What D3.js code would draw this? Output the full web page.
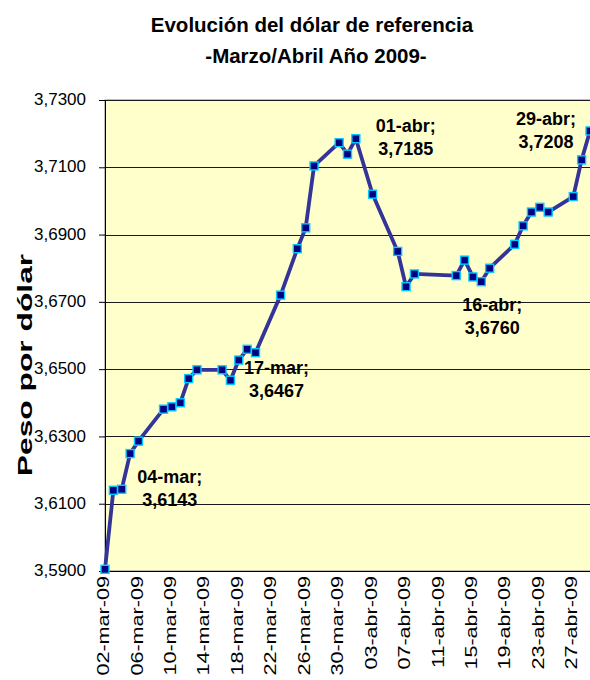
<!DOCTYPE html>
<html>
<head>
<meta charset="utf-8">
<script src="https://cdn.jsdelivr.net/npm/d3@7"></script>
<style>
  body { margin: 0; background: #fff; }
  text { font-family: "Liberation Sans", Arial, sans-serif; }
</style>
</head>
<body>
<div id="chart"></div>
<script>
// data
var dates = ["2009-03-02","2009-03-03","2009-03-04","2009-03-05","2009-03-06",
  "2009-03-09","2009-03-10","2009-03-11","2009-03-12","2009-03-13",
  "2009-03-16","2009-03-17","2009-03-18","2009-03-19","2009-03-20",
  "2009-03-23","2009-03-25","2009-03-26","2009-03-27",
  "2009-03-30","2009-03-31","2009-04-01","2009-04-03",
  "2009-04-06","2009-04-07","2009-04-08",
  "2009-04-13","2009-04-14","2009-04-15","2009-04-16","2009-04-17",
  "2009-04-20","2009-04-21","2009-04-22","2009-04-23","2009-04-24",
  "2009-04-27","2009-04-28","2009-04-29"];
var values = [3.5905,3.6140,3.6143,3.6249,3.6286,
  3.6381,3.6388,3.6400,3.6472,3.6498,
  3.6498,3.6467,3.6527,3.6559,3.6549,
  3.6720,3.6858,3.6920,3.7104,
  3.7173,3.7139,3.7185,3.7020,
  3.6850,3.6745,3.6783,
  3.6778,3.6824,3.6774,3.6760,3.6800,
  3.6871,3.6926,3.6967,3.6981,3.6967,
  3.7013,3.7122,3.7208];
var yTicks = [3.59,3.61,3.63,3.65,3.67,3.69,3.71,3.73];
var xTicks = ["2009-03-02","2009-03-06","2009-03-10","2009-03-14","2009-03-18",
  "2009-03-22","2009-03-26","2009-03-30","2009-04-03","2009-04-07",
  "2009-04-11","2009-04-15","2009-04-19","2009-04-23","2009-04-27"];
var labelledDates = ["2009-03-04","2009-03-17","2009-04-01","2009-04-16","2009-04-29"];
var titleLines = ["Evolución del dólar de referencia","-Marzo/Abril Año 2009-"];
var yTitle = "Peso por dólar";

var width = 590;
var height = 680;
var plot = {left:105, top:100, right:590, bottom:571};

var parse = d3.timeParse("%Y-%m-%d");
var es = d3.timeFormatLocale({
  dateTime:"%A, %e de %B de %Y, %X", date:"%d/%m/%Y", time:"%H:%M:%S",
  periods:["AM","PM"],
  days:["domingo","lunes","martes","miércoles","jueves","viernes","sábado"],
  shortDays:["dom","lun","mar","mié","jue","vie","sáb"],
  months:["enero","febrero","marzo","abril","mayo","junio","julio","agosto","septiembre","octubre","noviembre","diciembre"],
  shortMonths:["ene","feb","mar","abr","may","jun","jul","ago","sep","oct","nov","dic"]
});
var fmtDate = es.format("%d-%b-%y");
var fmtDay = es.format("%d-%b");
var num = d3.formatLocale({decimal:",", thousands:".", grouping:[3], currency:["$",""]});
var fmtVal = num.format(".4f");

var data = dates.map(function(d,i){ return {date:parse(d), value:values[i]}; });

var svg = d3.select('#chart').append('svg')
  .attr("width", width)
  .attr("height", height);

//scalers
var x = d3.scaleTime()
  .domain([parse(dates[0]), parse(dates[dates.length-1])])
  .range([plot.left, plot.right]);
var y = d3.scaleLinear()
  .domain([3.59, 3.73])
  .range([plot.bottom, plot.top]);

// plot area
svg.append("rect")
  .attr("x", plot.left).attr("y", plot.top)
  .attr("width", plot.right - plot.left + 10)
  .attr("height", plot.bottom - plot.top)
  .attr("fill", "#FFFFCC")
  .attr("stroke", "#808080");

// gridlines
svg.append("g").selectAll("line")
  .data(yTicks.slice(1))
  .enter().append("line")
  .attr("x1", plot.left).attr("x2", width)
  .attr("y1", function(d){ return Math.round(y(d)) + 0.5; })
  .attr("y2", function(d){ return Math.round(y(d)) + 0.5; })
  .attr("stroke", "#1a1a1a");

// y axis
var yAxis = svg.append("g")
  .attr("transform", "translate(" + plot.left + ",0)")
  .call(d3.axisLeft(y).tickValues(yTicks).tickSize(6).tickSizeOuter(0).tickPadding(13).tickFormat(fmtVal));
yAxis.select(".domain").attr("stroke", "#000");
yAxis.selectAll("text")
  .attr("font-size", "17px").attr("fill", "#000").attr("dy", "0.27em");

// x axis, labels stretched along the text like the original
var kx = 1.35;
var xAxis = svg.append("g")
  .attr("transform", "translate(0," + plot.bottom + ")")
  .call(d3.axisBottom(x).tickValues(xTicks.map(parse)).tickSize(0).tickFormat(fmtDate));
xAxis.select(".domain").attr("stroke", "#000").attr("stroke-width", 1.2);
xAxis.selectAll("text")
  .attr("font-size", "16px").attr("fill", "#000")
  .attr("transform", "rotate(-90) scale(" + kx + ",1)")
  .attr("x", -5 / kx).attr("y", -2).attr("dy", "0.35em")
  .style("text-anchor", "end");

// line
var line = d3.line()
  .x(function(d){ return x(d.date); })
  .y(function(d){ return y(d.value); });
svg.append("path")
  .datum(data)
  .attr("d", line)
  .attr("fill", "none")
  .attr("stroke", "#333399")
  .attr("stroke-width", 3.8)
  .attr("stroke-linejoin", "round");

// markers
svg.append("g").selectAll("rect")
  .data(data)
  .enter().append("rect")
  .attr("x", function(d){ return x(d.date) - 4; })
  .attr("y", function(d){ return y(d.value) - 4; })
  .attr("width", 8).attr("height", 8)
  .attr("fill", "#000080")
  .attr("stroke", "#00CCFF")
  .attr("stroke-width", 1.4);

// data labels (offsets from their point, as dragged in the original)
var labelOffsets = [[48,-6],[46,-6],[50,-7],[11,29],[-44,-6]];
var lab = svg.append("g").selectAll("text")
  .data(data.filter(function(d){ return labelledDates.indexOf(d3.timeFormat("%Y-%m-%d")(d.date)) >= 0; }))
  .enter().append("text")
  .attr("font-size", "18px").attr("font-weight", "bold").attr("fill", "#000")
  .attr("text-anchor", "middle")
  .attr("transform", function(d,i){
    return "translate(" + (x(d.date) + labelOffsets[i][0]) + "," + (y(d.value) + labelOffsets[i][1]) + ")";
  });
lab.append("tspan").attr("x", 0).attr("y", 0).text(function(d){ return fmtDay(d.date) + ";"; });
lab.append("tspan").attr("x", 0).attr("y", 23).text(function(d){ return fmtVal(d.value); });

// titles
svg.append("g").selectAll("text")
  .data(titleLines)
  .enter().append("text")
  .attr("x", function(d,i){ return i ? 316 : 312; })
  .attr("y", function(d,i){ return i ? 63 : 32; })
  .attr("text-anchor", "middle")
  .attr("font-size", "20.5px").attr("font-weight", "bold")
  .text(function(d){ return d; });

svg.append("text")
  .attr("transform", "translate(32,365) rotate(-90) scale(1.55,1)")
  .attr("text-anchor", "middle")
  .attr("font-size", "20.5px").attr("font-weight", "bold")
  .text(yTitle);
</script>
</body>
</html>
